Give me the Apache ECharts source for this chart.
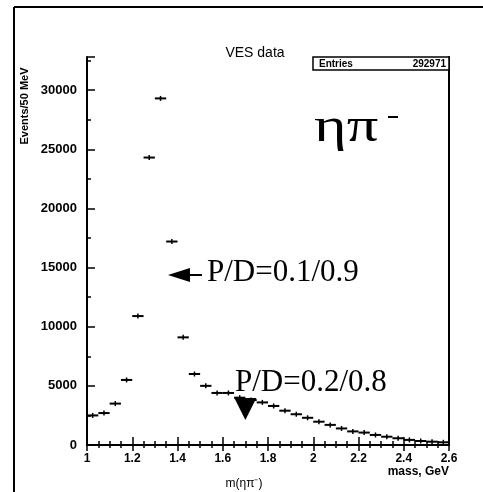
<!DOCTYPE html>
<html>
<head>
<meta charset="utf-8">
<script src="https://cdn.jsdelivr.net/npm/echarts@6/dist/echarts.min.js"></script>
<style>
  html, body { margin: 0; padding: 0; background: #fff; }
  #chart { width: 483px; height: 492px; }
</style>
</head>
<body>
<div id="chart"></div>
<script>
// eta pi- mass spectrum, 50 MeV bins
const binLow = [1.00, 1.05, 1.10, 1.15, 1.20, 1.25, 1.30, 1.35, 1.40, 1.45, 1.50, 1.55,
  1.60, 1.65, 1.70, 1.75, 1.80, 1.85, 1.90, 1.95, 2.00, 2.05, 2.10, 2.15,
  2.20, 2.25, 2.30, 2.35, 2.40, 2.45, 2.50, 2.55];
const binWidth = 0.05;
const events = [2500, 2700, 3500, 5500, 10900, 24300, 29300, 17200, 9100, 6000, 5000, 4400,
  4400, 4000, 3800, 3600, 3300, 2900, 2600, 2300, 1970, 1700, 1400, 1150,
  1050, 850, 700, 570, 430, 340, 280, 230];

// annotation anchors (mass, events)
const arrowAt = [1.433, 14370];
const triangleAt = [1.70, 3050];

const sans = 'Liberation Sans';
const serif = 'Liberation Serif';

const histData = binLow.map((x, i) => [x, x + binWidth, events[i]]);

const chart = echarts.init(document.getElementById('chart'), null, { renderer: 'canvas' });

const tickStyle = { color: '#000', width: 1.5 };

chart.setOption({
  animation: false,
  backgroundColor: '#fff',
  grid: { left: 87, right: 34, top: 57, bottom: 47, containLabel: false, outerBoundsMode: 'none' },
  xAxis: [
    {
      type: 'value', min: 1, max: 2.6, interval: 0.2,
      axisLine: { lineStyle: { color: '#000', width: 2 } },
      axisTick: { inside: true, length: 8, lineStyle: tickStyle },
      minorTick: { show: true, splitNumber: 4, length: 4, lineStyle: tickStyle },
      splitLine: { show: false },
      axisLabel: { color: '#000', fontFamily: sans, fontWeight: 'bold', fontSize: 12, margin: 8 }
    },
    {
      type: 'value', position: 'top', min: 1, max: 2.6, interval: 0.2,
      axisLine: { lineStyle: { color: '#000', width: 2 } },
      axisTick: { inside: true, length: 6, lineStyle: tickStyle },
      minorTick: { show: true, splitNumber: 4, length: 3, lineStyle: tickStyle },
      splitLine: { show: false },
      axisLabel: { show: false }
    }
  ],
  yAxis: [
    {
      type: 'value', min: 0, max: 32800, interval: 5000,
      axisLine: { show: true, lineStyle: { color: '#000', width: 2 } },
      axisTick: { inside: true, length: 8, lineStyle: tickStyle },
      minorTick: { show: true, splitNumber: 2, length: 4, lineStyle: tickStyle },
      splitLine: { show: false },
      axisLabel: {
        color: '#000', fontFamily: sans, fontWeight: 'bold', fontSize: 13, margin: 10,
        showMaxLabel: false, formatter: (v) => String(v)
      }
    },
    {
      type: 'value', position: 'right', min: 0, max: 32800,
      axisLine: { show: true, lineStyle: { color: '#000', width: 2 } },
      axisTick: { show: false },
      splitLine: { show: false },
      axisLabel: { show: false }
    }
  ],
  series: [
    {
      type: 'custom',
      data: histData,
      encode: { x: [0, 1], y: 2 },
      renderItem: (params, api) => {
        const p0 = api.coord([api.value(0), api.value(2)]);
        const p1 = api.coord([api.value(1), api.value(2)]);
        const cx = (p0[0] + p1[0]) / 2;
        return {
          type: 'group',
          children: [
            { type: 'line', shape: { x1: p0[0], y1: p0[1], x2: p1[0], y2: p1[1] },
              style: { stroke: '#000', lineWidth: 2 } },
            { type: 'line', shape: { x1: cx, y1: p0[1] - 2.5, x2: cx, y2: p0[1] + 2.5 },
              style: { stroke: '#000', lineWidth: 1.5 } }
          ]
        };
      }
    },
    {
      type: 'scatter',
      data: [triangleAt],
      symbol: 'triangle',
      symbolRotate: 180,
      symbolSize: [22, 22],
      itemStyle: { color: '#000', opacity: 1 },
      silent: true
    },
    {
      type: 'scatter',
      data: [arrowAt],
      symbol: 'path://M0,7L22,0L22,6L34,6L34,8L22,8L22,14Z',
      symbolSize: [34, 14],
      itemStyle: { color: '#000', opacity: 1 },
      silent: true
    }
  ],
  graphic: [
    // outer frame
    { type: 'line', shape: { x1: 14, y1: 7, x2: 483, y2: 7 }, style: { stroke: '#000', lineWidth: 2 } },
    { type: 'line', shape: { x1: 14, y1: 7, x2: 14, y2: 492 }, style: { stroke: '#000', lineWidth: 2 } },
    // stats box
    { type: 'rect', shape: { x: 313, y: 57, width: 136, height: 13 },
      style: { fill: '#fff', stroke: '#000', lineWidth: 1.5 }, z: 100 },
    { type: 'text', x: 319, y: 64, z: 101,
      style: { text: 'Entries', font: 'bold 10px ' + sans, fill: '#000', verticalAlign: 'middle' } },
    { type: 'text', x: 446, y: 64, z: 101,
      style: { text: '292971', font: 'bold 10px ' + sans, fill: '#000', align: 'right', verticalAlign: 'middle' } },
    // title
    { type: 'text', x: 255, y: 53,
      style: { text: 'VES data', font: '14px ' + sans, fill: '#000', align: 'center', verticalAlign: 'middle' } },
    // y axis name
    { type: 'text', x: 25, y: 106, rotation: Math.PI / 2,
      style: { text: 'Events/50 MeV', font: 'bold 11px ' + sans, fill: '#000', align: 'center', verticalAlign: 'middle' } },
    // x axis names
    { type: 'text', x: 449, y: 472,
      style: { text: 'mass, GeV', font: 'bold 12px ' + sans, fill: '#000', align: 'right', verticalAlign: 'middle' } },
    { type: 'text', x: 244, y: 484,
      style: { text: 'm(ηπ⁻)', font: '12px ' + sans, fill: '#000', align: 'center', verticalAlign: 'middle' } },
    // channel label
    { type: 'text', x: 314, y: 128, scaleX: 1.3,
      style: { text: 'ηπ', font: '48px ' + serif, fill: '#000', verticalAlign: 'middle' } },
    { type: 'rect', shape: { x: 388, y: 116, width: 10, height: 2 }, style: { fill: '#000' } },
    // P/D annotations
    { type: 'text', x: 207, y: 273,
      style: { text: 'P/D=0.1/0.9', font: '31px ' + serif, fill: '#000', verticalAlign: 'middle' } },
    { type: 'text', x: 235, y: 383,
      style: { text: 'P/D=0.2/0.8', font: '31px ' + serif, fill: '#000', verticalAlign: 'middle' } }
  ]
});
</script>
</body>
</html>
